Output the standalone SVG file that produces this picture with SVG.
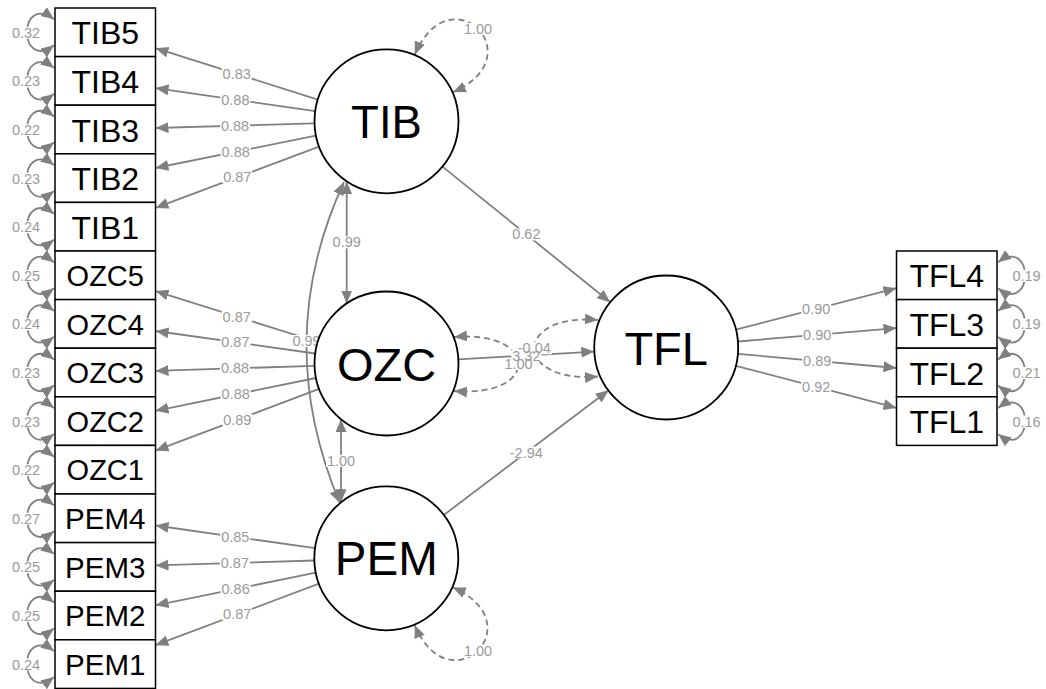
<svg xmlns="http://www.w3.org/2000/svg" width="1046" height="689" viewBox="0 0 1046 689">
<defs>
<marker id="ah" markerUnits="userSpaceOnUse" markerWidth="14" markerHeight="12" refX="13" refY="5.5" orient="auto-start-reverse">
<path d="M0,0 L13,5.5 L0,11 Z" fill="#808080"/>
</marker>
</defs>
<style>
.e{stroke:#808080;stroke-width:1.8;fill:none;marker-end:url(#ah)}
.b{marker-start:url(#ah)}
.dash{stroke-dasharray:6 4}
.bg rect{fill:#fff}
.lt text{font-family:"Liberation Sans",Arial,sans-serif;font-size:14.5px;fill:#9a9a9a;text-anchor:middle}
.box{fill:#fff;stroke:#000;stroke-width:1.5}
.lat{fill:#fff;stroke:#000;stroke-width:1.8}
.nt{font-family:"Liberation Sans",Arial,sans-serif;fill:#000;text-anchor:middle}
.ti{font-size:32px}.oz{font-size:29px}.pe{font-size:29.5px}
</style>
<rect width="1046" height="689" fill="#fff"/>

<g id="connectors">
<!-- loadings TIB -->
<path class="e" d="M317.9,99.6 L155.5,48.2"/>
<path class="e" d="M315.2,111.1 L155.5,88.1"/>
<path class="e" d="M314.5,123.4 L155.5,128.0"/>
<path class="e" d="M315.9,135.6 L155.5,168.0"/>
<path class="e" d="M319.1,146.6 L155.5,207.9"/>
<!-- loadings OZC -->
<path class="e" d="M317.8,342.0 L155.5,291.1"/>
<path class="e" d="M315.2,353.5 L155.5,331.0"/>
<path class="e" d="M314.5,365.8 L155.5,370.9"/>
<path class="e" d="M316.0,378.0 L155.5,410.8"/>
<path class="e" d="M319.1,388.9 L155.5,450.7"/>
<!-- loadings PEM -->
<path class="e" d="M315.0,548.2 L155.5,525.5"/>
<path class="e" d="M314.3,560.5 L155.5,565.4"/>
<path class="e" d="M315.8,572.7 L155.5,605.3"/>
<path class="e" d="M318.9,583.7 L155.5,645.2"/>
<!-- loadings TFL -->
<path class="e" d="M735.9,329.6 L896.5,288.2"/>
<path class="e" d="M738.0,341.5 L896.5,328.1"/>
<path class="e" d="M737.9,353.9 L896.5,368.0"/>
<path class="e" d="M735.8,365.8 L896.5,407.9"/>
<!-- structural paths -->
<path class="e" d="M442.5,166.6 L610.2,302.2"/>
<path class="e" d="M458.4,359.4 L594.3,351.6"/>
<path class="e" d="M443.8,515.0 L608.7,390.2"/>
<!-- latent covariances -->
<path class="e b" d="M346.7,181.3 L346.7,303.5"/>
<path class="e b" d="M341,419.3 L341,502.3"/>
<path class="e b" d="M344,182 Q271.1,339.5 339.8,503"/>
<!-- latent variances -->
<path class="e b dash" d="M414.8,54.6 C450,-28.2 535.3,56 452.9,92.2"/>
<path class="e b dash" d="M414.6,625 C449.8,707.8 535.1,623.6 452.7,587.4"/>
<path class="e b dash" d="M454,337 C540,330 540,398 454,391"/>
<path class="e b dash" d="M598,320 C513,313 513,383.5 598,376.5"/>
<!-- residual variances, left column -->
<path class="e b" d="M54,19.3 C18,-7.7 18,72.3 54,45.3"/>
<path class="e b" d="M54,67.9 C18,40.9 18,120.9 54,93.9"/>
<path class="e b" d="M54,116.5 C18,89.5 18,169.5 54,142.5"/>
<path class="e b" d="M54,165.1 C18,138.1 18,218.1 54,191.1"/>
<path class="e b" d="M54,213.7 C18,186.7 18,266.7 54,239.7"/>
<path class="e b" d="M54,262.3 C18,235.3 18,315.3 54,288.3"/>
<path class="e b" d="M54,310.9 C18,283.9 18,363.9 54,336.9"/>
<path class="e b" d="M54,359.5 C18,332.5 18,412.5 54,385.5"/>
<path class="e b" d="M54,408.1 C18,381.1 18,461.1 54,434.1"/>
<path class="e b" d="M54,456.7 C18,429.7 18,509.7 54,482.7"/>
<path class="e b" d="M54,505.3 C18,478.3 18,558.3 54,531.3"/>
<path class="e b" d="M54,553.9 C18,526.9 18,606.9 54,579.9"/>
<path class="e b" d="M54,602.5 C18,575.5 18,655.5 54,628.5"/>
<path class="e b" d="M54,651.1 C18,624.1 18,704.1 54,677.1"/>
<!-- residual variances, right column -->
<path class="e b" d="M998,262.3 C1034,235.3 1034,315.3 998,288.3"/>
<path class="e b" d="M998,310.9 C1034,283.9 1034,363.9 998,336.9"/>
<path class="e b" d="M998,359.5 C1034,332.5 1034,412.5 998,385.5"/>
<path class="e b" d="M998,408.1 C1034,381.1 1034,461.1 998,434.1"/>
</g>

<g id="edge-labels">
<g class="bg">
<rect x="221.7" y="67.9" width="30" height="12"/>
<rect x="220.4" y="93.6" width="30" height="12"/>
<rect x="220" y="119.7" width="30" height="12"/>
<rect x="220.7" y="145.8" width="30" height="12"/>
<rect x="222.3" y="171.2" width="30" height="12"/>
<rect x="221.7" y="310.5" width="30" height="12"/>
<rect x="220.4" y="336.2" width="30" height="12"/>
<rect x="220" y="362.4" width="30" height="12"/>
<rect x="220.7" y="388.4" width="30" height="12"/>
<rect x="222.3" y="413.8" width="30" height="12"/>
<rect x="220.3" y="530.8" width="30" height="12"/>
<rect x="219.9" y="556.9" width="30" height="12"/>
<rect x="220.6" y="583" width="30" height="12"/>
<rect x="222.2" y="608.4" width="30" height="12"/>
<rect x="801.2" y="302.9" width="30" height="12"/>
<rect x="802.2" y="328.8" width="30" height="12"/>
<rect x="802.2" y="355" width="30" height="12"/>
<rect x="801.2" y="380.8" width="30" height="12"/>
<rect x="511.4" y="228.4" width="30" height="12"/>
<rect x="511.4" y="349.5" width="30" height="12"/>
<rect x="508.8" y="446.6" width="35" height="12"/>
<rect x="331.7" y="236.4" width="30" height="12"/>
<rect x="326" y="454.8" width="30" height="12"/>
<rect x="291.5" y="335" width="30" height="12"/>
<rect x="463" y="23" width="30" height="12"/>
<rect x="463" y="645" width="30" height="12"/>
<rect x="503.5" y="358" width="30" height="12"/>
<rect x="516.8" y="342.3" width="35" height="12"/>
<rect x="11" y="26.8" width="30" height="12"/>
<rect x="11" y="75.4" width="30" height="12"/>
<rect x="11" y="124" width="30" height="12"/>
<rect x="11" y="172.6" width="30" height="12"/>
<rect x="11" y="221.2" width="30" height="12"/>
<rect x="11" y="269.8" width="30" height="12"/>
<rect x="11" y="318.4" width="30" height="12"/>
<rect x="11" y="367" width="30" height="12"/>
<rect x="11" y="415.6" width="30" height="12"/>
<rect x="11" y="464.2" width="30" height="12"/>
<rect x="11" y="512.8" width="30" height="12"/>
<rect x="11" y="561.4" width="30" height="12"/>
<rect x="11" y="610" width="30" height="12"/>
<rect x="11" y="658.6" width="30" height="12"/>
<rect x="1011.5" y="269.8" width="30" height="12"/>
<rect x="1011.5" y="318.4" width="30" height="12"/>
<rect x="1011.5" y="367" width="30" height="12"/>
<rect x="1011.5" y="415.6" width="30" height="12"/>
</g>
<g class="lt">
<text x="236.7" y="78.9">0.83</text>
<text x="235.4" y="104.6">0.88</text>
<text x="235" y="130.7">0.88</text>
<text x="235.7" y="156.8">0.88</text>
<text x="237.3" y="182.2">0.87</text>
<text x="236.7" y="321.5">0.87</text>
<text x="235.4" y="347.2">0.87</text>
<text x="235" y="373.4">0.88</text>
<text x="235.7" y="399.4">0.88</text>
<text x="237.3" y="424.8">0.89</text>
<text x="235.3" y="541.8">0.85</text>
<text x="234.9" y="567.9">0.87</text>
<text x="235.6" y="594">0.86</text>
<text x="237.2" y="619.4">0.87</text>
<text x="816.2" y="313.9">0.90</text>
<text x="817.2" y="339.8">0.90</text>
<text x="817.2" y="366">0.89</text>
<text x="816.2" y="391.8">0.92</text>
<text x="526.4" y="239.4">0.62</text>
<text x="526.4" y="360.5">3.32</text>
<text x="526.3" y="457.6">-2.94</text>
<text x="346.7" y="247.4">0.99</text>
<text x="341" y="465.8">1.00</text>
<text x="306.5" y="346">0.99</text>
<text x="478" y="34">1.00</text>
<text x="478" y="656">1.00</text>
<text x="518.5" y="369">1.00</text>
<text x="534.3" y="353.3">-0.04</text>
<text x="26" y="37.8">0.32</text>
<text x="26" y="86.4">0.23</text>
<text x="26" y="135">0.22</text>
<text x="26" y="183.6">0.23</text>
<text x="26" y="232.2">0.24</text>
<text x="26" y="280.8">0.25</text>
<text x="26" y="329.4">0.24</text>
<text x="26" y="378">0.23</text>
<text x="26" y="426.6">0.23</text>
<text x="26" y="475.2">0.22</text>
<text x="26" y="523.8">0.27</text>
<text x="26" y="572.4">0.25</text>
<text x="26" y="621">0.25</text>
<text x="26" y="669.6">0.24</text>
<text x="1026.5" y="280.8">0.19</text>
<text x="1026.5" y="329.4">0.19</text>
<text x="1026.5" y="378">0.21</text>
<text x="1026.5" y="426.6">0.16</text>
</g>
</g>

<!-- indicators -->
<g id="TIB5"><rect class="box" x="55" y="8" width="100.5" height="48.6"/><text class="nt ti" x="105.25" y="44.3">TIB5</text></g>
<g id="TIB4"><rect class="box" x="55" y="56.6" width="100.5" height="48.6"/><text class="nt ti" x="105.25" y="92.9">TIB4</text></g>
<g id="TIB3"><rect class="box" x="55" y="105.2" width="100.5" height="48.6"/><text class="nt ti" x="105.25" y="141.5">TIB3</text></g>
<g id="TIB2"><rect class="box" x="55" y="153.8" width="100.5" height="48.6"/><text class="nt ti" x="105.25" y="190.1">TIB2</text></g>
<g id="TIB1"><rect class="box" x="55" y="202.4" width="100.5" height="48.6"/><text class="nt ti" x="105.25" y="238.7">TIB1</text></g>
<g id="OZC5"><rect class="box" x="55" y="251" width="100.5" height="48.6"/><text class="nt oz" x="105.25" y="286">OZC5</text></g>
<g id="OZC4"><rect class="box" x="55" y="299.6" width="100.5" height="48.6"/><text class="nt oz" x="105.25" y="334.6">OZC4</text></g>
<g id="OZC3"><rect class="box" x="55" y="348.2" width="100.5" height="48.6"/><text class="nt oz" x="105.25" y="383.2">OZC3</text></g>
<g id="OZC2"><rect class="box" x="55" y="396.8" width="100.5" height="48.6"/><text class="nt oz" x="105.25" y="431.8">OZC2</text></g>
<g id="OZC1"><rect class="box" x="55" y="445.4" width="100.5" height="48.6"/><text class="nt oz" x="105.25" y="480.4">OZC1</text></g>
<g id="PEM4"><rect class="box" x="55" y="494" width="100.5" height="48.6"/><text class="nt pe" x="105.25" y="529.2">PEM4</text></g>
<g id="PEM3"><rect class="box" x="55" y="542.6" width="100.5" height="48.6"/><text class="nt pe" x="105.25" y="577.8">PEM3</text></g>
<g id="PEM2"><rect class="box" x="55" y="591.2" width="100.5" height="48.6"/><text class="nt pe" x="105.25" y="626.4">PEM2</text></g>
<g id="PEM1"><rect class="box" x="55" y="639.8" width="100.5" height="48.6"/><text class="nt pe" x="105.25" y="675">PEM1</text></g>
<g id="TFL4"><rect class="box" x="896.5" y="251" width="100.5" height="48.6"/><text class="nt ti" x="946.75" y="287.3">TFL4</text></g>
<g id="TFL3"><rect class="box" x="896.5" y="299.6" width="100.5" height="48.6"/><text class="nt ti" x="946.75" y="335.9">TFL3</text></g>
<g id="TFL2"><rect class="box" x="896.5" y="348.2" width="100.5" height="48.6"/><text class="nt ti" x="946.75" y="384.5">TFL2</text></g>
<g id="TFL1"><rect class="box" x="896.5" y="396.8" width="100.5" height="48.6"/><text class="nt ti" x="946.75" y="433.1">TFL1</text></g>

<!-- latent variables -->
<g id="TIB"><circle class="lat" cx="386.5" cy="121.3" r="72"/><text class="nt" x="386.5" y="138.1" font-size="45.5">TIB</text></g>
<g id="OZC"><circle class="lat" cx="386.5" cy="363.5" r="72"/><text class="nt" x="386.5" y="380.8" font-size="47">OZC</text></g>
<g id="PEM"><circle class="lat" cx="386.3" cy="558.3" r="72"/><text class="nt" x="386.3" y="575.3" font-size="47.5">PEM</text></g>
<g id="TFL"><circle class="lat" cx="666.2" cy="347.5" r="72"/><text class="nt" x="666.2" y="364.5" font-size="47">TFL</text></g>
</svg>
